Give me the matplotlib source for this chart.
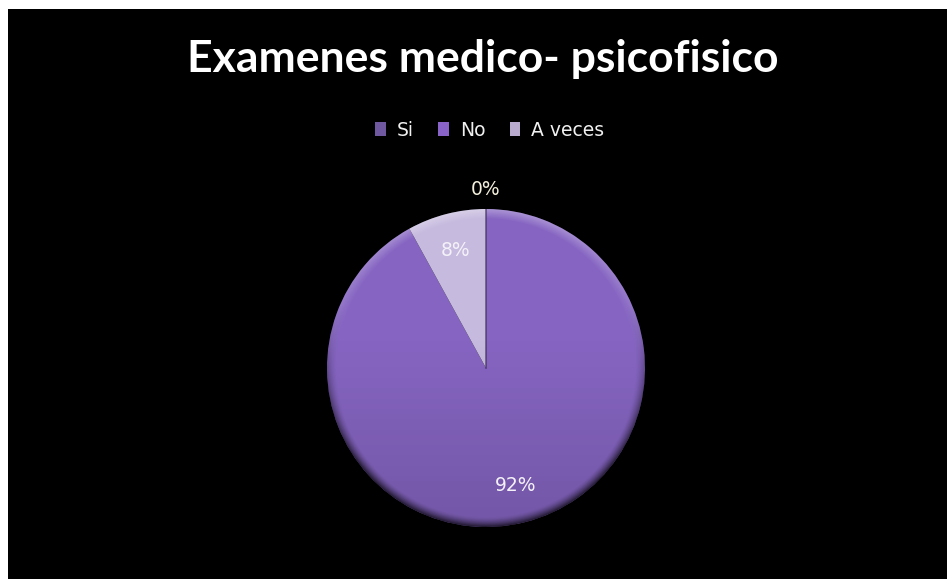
import numpy as np
import matplotlib.pyplot as plt
from matplotlib import patches

# survey answers
categories = ["Si", "No", "A veces"]
values = [0, 92, 8]
slice_colors = ["#6e57a3", "#8665c2", "#c6bade"]
legend_colors = ["#6f58a0", "#8a63c8", "#b9abce"]
title = "Examenes medico- psicofisico"

W, H, DPI = 947, 579, 100
fig = plt.figure(figsize=(W / DPI, H / DPI), dpi=DPI, facecolor="white")

# black chart area (white strip left and top)
bg = fig.add_axes([8 / W, 0, (W - 8) / W, (H - 9) / H])
bg.set_facecolor("black")
bg.set_xticks([])
bg.set_yticks([])
for s in bg.spines.values():
    s.set_visible(False)

fig.text(483 / W, 1 - 59 / H, title, ha="center", va="center",
         color="white", fontsize=32, fontweight="bold", family="Lato")

# pie axes, square in pixels
cx, cy, r = 486, 368, 159
ax = fig.add_axes([(cx - r) / W, (H - cy - r) / H, 2 * r / W, 2 * r / H])
ax.set_facecolor("none")
wedges, _ = ax.pie(values, colors=slice_colors, startangle=90, counterclock=False,
                   radius=1, wedgeprops=dict(linewidth=0))
ax.set_xlim(-1, 1)
ax.set_ylim(-1, 1)
ax.axis("off")

# shading: darker toward the bottom, dark rim below, light rim above
n = 400
yy, xx = np.mgrid[-1:1:n * 1j, -1:1:n * 1j]
rr = np.sqrt(xx ** 2 + yy ** 2)
rim = np.clip((rr - 0.94) / 0.06, 0, 1)
dark = np.zeros((n, n, 4))
dark[..., 3] = np.clip(rim ** 1.5 * 0.6 * np.clip(0.4 - yy, 0, 1)
                       + 0.12 * np.clip(0.2 - yy, 0, 1.2), 0, 1)
lite = np.ones((n, n, 4))
lite[..., 3] = rim * 0.3 * np.clip(yy, 0, 1)
circ = patches.Circle((0, 0), 1, transform=ax.transData)
for img in (dark, lite):
    im = ax.imshow(img, extent=(-1, 1, -1, 1), origin="lower", zorder=3)
    im.set_clip_path(circ)

# thin shadow along the light slice's left edge
light = wedges[2]
t = np.deg2rad(light.theta1)
ax.plot([0, np.cos(t)], [0, np.sin(t)], color="#3c2f55", lw=1.2, alpha=0.7, zorder=4)

total = sum(values)
for w, v in zip(wedges, values):
    mid = np.deg2rad((w.theta1 + w.theta2) / 2)
    pct = f"{v / total * 100:.0f}%"
    if v == 0:
        d, col = 1.12, "#f3efdc"
    else:
        d, col = 0.76, "#f4f1f8"
    ax.text(d * np.cos(mid), d * np.sin(mid), pct, ha="center", va="center",
            color=col, fontsize=13.5, family="DejaVu Sans", zorder=5)

handles = [patches.Patch(facecolor=c, edgecolor="none") for c in legend_colors]
leg = fig.legend(handles, categories, loc="center", ncol=3,
                 bbox_to_anchor=(490 / W, 1 - 130 / H), frameon=False,
                 prop=dict(family="DejaVu Sans", size=13.5),
                 handlelength=0.55, handleheight=0.75, handletextpad=0.6,
                 columnspacing=1.3, labelcolor="#f0f0f0")

fig.savefig("out.png", dpi=DPI, facecolor="white")
